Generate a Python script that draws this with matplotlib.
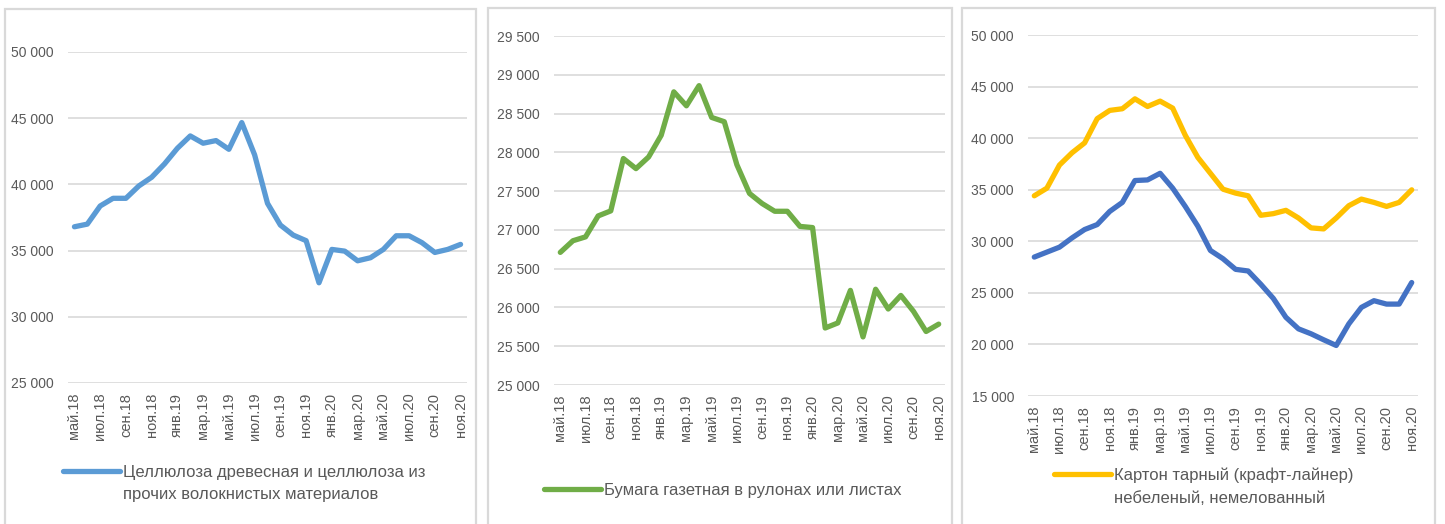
import matplotlib
matplotlib.use("Agg")
import matplotlib.pyplot as plt
from matplotlib.patches import Rectangle

months = ["май.18", "июн.18", "июл.18", "авг.18", "сен.18", "окт.18", "ноя.18", "дек.18",
          "янв.19", "фев.19", "мар.19", "апр.19", "май.19", "июн.19", "июл.19", "авг.19",
          "сен.19", "окт.19", "ноя.19", "дек.19", "янв.20", "фев.20", "мар.20", "апр.20",
          "май.20", "июн.20", "июл.20", "авг.20", "сен.20", "окт.20", "ноя.20"]

pulp = [36800, 37000, 38370, 38950, 38950, 39880, 40540, 41550, 42730, 43660, 43110,
        43310, 42650, 44670, 42230, 38570, 36930, 36170, 35750, 32570, 35090, 34960,
        34230, 34460, 35090, 36120, 36120, 35600, 34860, 35090, 35470]

newsprint = [26710, 26860, 26910, 27180, 27245, 27920, 27790, 27940, 28220, 28780, 28600,
             28860, 28450, 28395, 27840, 27470, 27340, 27240, 27240, 27045, 27030, 25735,
             25800, 26220, 25620, 26235, 25980, 26155, 25950, 25690, 25785]

kraftliner = [34410, 35150, 37390, 38580, 39540, 41890, 42690, 42850, 43810, 43070, 43590,
              42910, 40280, 38130, 36590, 35050, 34670, 34410, 32520, 32680, 33000, 32260,
              31300, 31200, 32260, 33450, 34090, 33770, 33380, 33770, 34990]

second_board = [28470, 28950, 29430, 30330, 31140, 31620, 32900, 33770, 35890, 35950, 36590,
                35150, 33380, 31460, 29110, 28310, 27280, 27120, 25840, 24460, 22630, 21510,
                21030, 20450, 19900, 21990, 23590, 24240, 23910, 23910, 26000]

label_pulp = ["Целлюлоза древесная и целлюлоза из", "прочих волокнистых материалов"]
label_news = ["Бумага газетная в рулонах или листах"]
label_kraft = ["Картон тарный (крафт-лайнер)", "небеленый, немелованный"]

plt.rcParams['font.family'] = ['Liberation Sans', 'DejaVu Sans']
text_col = '#595959'
grid_col = '#d9d9d9'

fig = plt.figure(figsize=(14.45, 5.24), dpi=100)
W, H = 1445, 524

# panel frames (px: left, top, right)
for l, t, r in [(5, 9, 476), (488, 8, 952), (962, 8, 1435)]:
    fig.patches.append(Rectangle((l / W, -0.05), (r - l) / W, 1.05 - t / H,
                                 transform=fig.transFigure, fill=False,
                                 edgecolor=grid_col, linewidth=1.6))


def make_ax(rect_px, ymin, ymax, step):
    l, t, r, b = rect_px
    ax = fig.add_axes([l / W, 1 - b / H, (r - l) / W, (b - t) / H])
    ax.set_xlim(-0.5, len(months) - 0.5)
    ax.set_ylim(ymin, ymax)
    ticks = list(range(ymin, ymax + 1, step))
    ax.set_yticks(ticks)
    ax.set_yticklabels([f"{v:,}".replace(",", " ") for v in ticks])
    ax.set_xticks(range(0, len(months), 2))
    ax.set_xticklabels(months[::2], rotation=90)
    ax.tick_params(axis='y', length=0, pad=10, labelsize=10, labelcolor=text_col)
    ax.tick_params(axis='x', length=0, pad=7, labelsize=10.5, labelcolor=text_col)
    ax.grid(axis='y', color=grid_col, linewidth=1.2)
    ax.set_axisbelow(True)
    for s in ax.spines.values():
        s.set_visible(False)
    return ax


legends = []


def add_legend(ax, handle, lines, x_px, y_px):
    handle.set_label(lines[0])
    leg = ax.legend(handles=[handle], loc='center left',
                    bbox_to_anchor=(x_px / W, 1 - y_px / H),
                    bbox_transform=fig.transFigure, frameon=False, fontsize=12,
                    handlelength=3.4, handletextpad=0.2, borderaxespad=0, borderpad=0,
                    labelcolor=text_col)
    legends.append((leg, lines[1:]))


x = range(len(months))

ax1 = make_ax((68, 52, 467, 383), 25000, 50000, 5000)
l1, = ax1.plot(x, pulp, color='#5B9BD5', lw=3.8, solid_capstyle='round',
               solid_joinstyle='round')
add_legend(ax1, l1, label_pulp, 63, 472)

ax2 = make_ax((554, 36, 945, 385), 25000, 29500, 500)
l2, = ax2.plot(x, newsprint, color='#70AD47', lw=3.8, solid_capstyle='round',
               solid_joinstyle='round')
add_legend(ax2, l2, label_news, 544, 490)

ax3 = make_ax((1028, 35, 1418, 396), 15000, 50000, 5000)
l3, = ax3.plot(x, kraftliner, color='#FFC000', lw=3.8, solid_capstyle='round',
               solid_joinstyle='round')
ax3.plot(x, second_board, color='#4472C4', lw=3.8, solid_capstyle='round',
         solid_joinstyle='round')
add_legend(ax3, l3, label_kraft, 1054, 475)

# wrapped legend labels: continue under the first line of the legend text
fig.canvas.draw()
for leg, rest in legends:
    bb = leg.get_texts()[0].get_window_extent()
    for i, line in enumerate(rest):
        fig.text(bb.x0 / W, (bb.y0 - 8 - i * 24) / H, line, ha='left', va='top',
                 fontsize=12, color=text_col)

fig.savefig("out.png", dpi=100, facecolor='white')
